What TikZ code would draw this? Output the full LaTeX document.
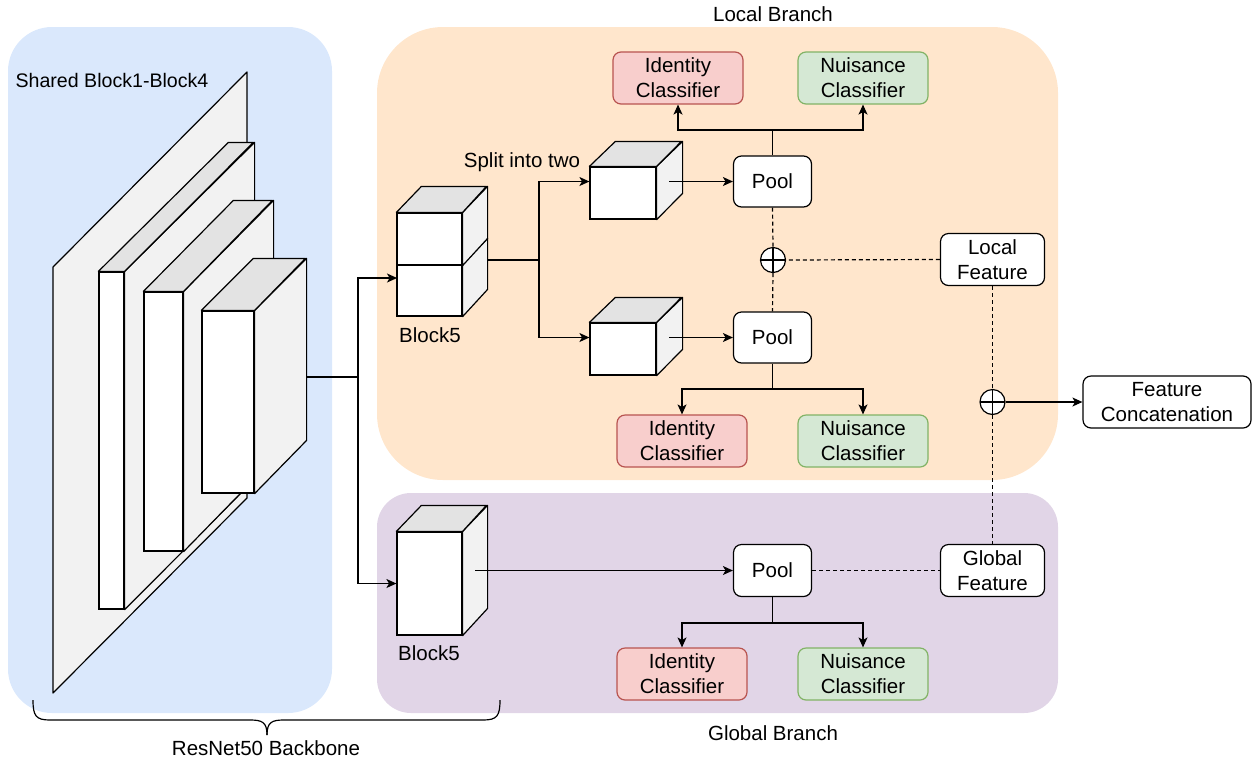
\documentclass[tikz,border=0pt]{standalone}
\usepackage{fontspec}
\setmainfont{Liberation Sans}
\usetikzlibrary{arrows.meta,calc}
\definecolor{cblue}{HTML}{DAE8FC}
\definecolor{corange}{HTML}{FFE6CC}
\definecolor{cpurple}{HTML}{E1D5E7}
\definecolor{redfill}{HTML}{F8CECC}
\definecolor{redline}{HTML}{B85450}
\definecolor{greenfill}{HTML}{D5E8D4}
\definecolor{greenline}{HTML}{82B366}
\definecolor{sidegray}{HTML}{F2F2F2}
\definecolor{topgray}{HTML}{E3E3E3}
\begin{document}
\begin{tikzpicture}[x=0.5pt,y=-0.5pt, line width=0.6pt,
 font=\fontsize{10.25pt}{12.5pt}\selectfont,
 front/.style={draw, fill=white, inner sep=0pt},
 sideface/.style={draw, fill=sidegray, line join=round},
 topface/.style={draw, fill=topgray, line join=round},
 box/.style={draw, fill=white, rounded corners=4pt, align=center, inner sep=0pt, minimum width=39pt, minimum height=25.5pt},
 idbox/.style={box, fill=redfill, draw=redline, minimum width=65pt, minimum height=26pt},
 nubox/.style={box, fill=greenfill, draw=greenline, minimum width=65pt, minimum height=26pt},
 featbox/.style={box, minimum width=52pt, minimum height=26pt},
 oplus/.style={circle, draw, fill=white, minimum size=12.5pt, inner sep=0pt,
   path picture={\draw (path picture bounding box.north) -- (path picture bounding box.south)
                       (path picture bounding box.west) -- (path picture bounding box.east);}},
 arr/.style={-{Stealth[length=5pt,width=4.5pt,inset=1.3pt]}},
 dsh/.style={dash pattern=on 2pt off 1.5pt},
 lbl/.style={inner sep=0pt},
]
\useasboundingbox (0,0) rectangle (1252,761);

% panels
\fill[cblue, rounded corners=22pt] (8,27) rectangle (332,713);
\fill[corange, rounded corners=33pt] (377,27) rectangle (1058,480);
\fill[cpurple, rounded corners=17pt] (377,493) rectangle (1058,713);

% labels
\node[lbl, anchor=west, font=\fontsize{9.8pt}{12pt}\selectfont] (shared) at (15,80) {Shared Block1-Block4};
\node[lbl] (lbranch) at (773,14) {Local Branch};
\node[lbl] (gbranch) at (773,733) {Global Branch};
\node[lbl] (resnet) at (266,748) {ResNet50 Backbone};

% Block1 slab
\draw[sideface] (53,267) -- (247,72) -- (247,498) -- (53,693) -- cycle;
% Block2
\node[front, minimum width=12.5pt, minimum height=168.5pt] (b2) at (111.5,440.5) {};
\draw[sideface] (b2.north east) -- ++(130,-129) -- ++(0,337) -- (b2.south east) -- cycle;
\draw[topface] (b2.north west) -- ++(130,-129) -- ++(25,0) -- (b2.north east) -- cycle;
% Block3
\node[front, minimum width=19.5pt, minimum height=129.5pt] (b3) at (163.5,421.5) {};
\draw[sideface] (b3.north east) -- ++(90,-91) -- ++(0,259) -- (b3.south east) -- cycle;
\draw[topface] (b3.north west) -- ++(90,-91) -- ++(39,0) -- (b3.north east) -- cycle;
% Block4
\node[front, minimum width=26pt, minimum height=91pt] (b4) at (228,402) {};
\draw[sideface] (b4.north east) -- ++(52,-52) -- ++(0,182) -- (b4.south east) -- cycle;
\draw[topface] (b4.north west) -- ++(52,-52) -- ++(52,0) -- (b4.north east) -- cycle;

% Local Block5 (two stacked cubes)
\node[front, minimum width=32.5pt, minimum height=25.5pt] (b5b) at (429.5,290.5) {};
\draw[sideface] (b5b.north east) -- ++(25,-26) -- ++(0,51) -- (b5b.south east) -- cycle;
\node[front, minimum width=32.5pt, minimum height=26pt] (b5a) at (429.5,239) {};
\draw[sideface] (b5a.north east) -- ++(25,-26) -- ++(0,52) -- (b5a.south east) -- cycle;
\draw[topface] (b5a.north west) -- ++(25,-26) -- ++(65,0) -- (b5a.north east) -- cycle;
\node[lbl] (b5lab) at (430,335) {Block5};
\node[lbl] (split) at (522,162) {Split into two};

% split cubes
\node[front, minimum width=33pt, minimum height=26pt] (cA) at (623,193) {};
\draw[sideface] (cA.north east) -- ++(26,-25) -- ++(0,52) -- (cA.south east) -- cycle;
\draw[topface] (cA.north west) -- ++(26,-25) -- ++(66,0) -- (cA.north east) -- cycle;
\node[front, minimum width=33pt, minimum height=26pt] (cB) at (623,349) {};
\draw[sideface] (cB.north east) -- ++(26,-25) -- ++(0,52) -- (cB.south east) -- cycle;
\draw[topface] (cB.north west) -- ++(26,-25) -- ++(66,0) -- (cB.north east) -- cycle;

% Global Block5
\node[front, minimum width=32.5pt, minimum height=51.5pt] (b5g) at (429.5,583.5) {};
\draw[sideface] (b5g.north east) -- ++(25,-26) -- ++(0,103) -- (b5g.south east) -- cycle;
\draw[topface] (b5g.north west) -- ++(25,-26) -- ++(65,0) -- (b5g.north east) -- cycle;
\node[lbl] (b5glab) at (429,653) {Block5};

% pools, classifiers, features
\node[box] (pool1) at (772.5,181.5) {Pool};
\node[box] (pool2) at (772.5,337.5) {Pool};
\node[box, minimum height=26pt] (pool3) at (772.5,570.5) {Pool};
\node[idbox] (id1) at (678,78) {Identity\\Classifier};
\node[nubox] (nu1) at (863,78) {Nuisance\\Classifier};
\node[idbox] (id2) at (682,441) {Identity\\Classifier};
\node[nubox] (nu2) at (863,441) {Nuisance\\Classifier};
\node[idbox] (id3) at (682,674) {Identity\\Classifier};
\node[nubox] (nu3) at (863,674) {Nuisance\\Classifier};
\node[featbox] (lf) at (992.5,259.5) {Local\\Feature};
\node[featbox] (gf) at (992.5,570.5) {Global\\Feature};
\node[box, minimum width=84pt, minimum height=26pt] (fc) at (1167,402) {Feature\\Concatenation};
\node[oplus] (c1) at (773,260) {};
\node[oplus] (c2) at (992.5,402) {};

% connectors
\coordinate (b4out) at (306,377);
\coordinate (fork) at (358,377);
\coordinate (in5) at (397,278);
\draw[arr] (b4out) -- (fork) |- (in5);
\draw[arr] (fork) |- (b5g.west);

\coordinate (b5out) at (487,260);
\coordinate (sp) at (539,260);
\draw (b5out) -- (sp);
\draw[arr] (sp) |- (cA.west |- pool1);
\draw[arr] (sp) |- (cB.west |- pool2);

\coordinate (oA) at (669,181.5);
\coordinate (oB) at (669,337.5);
\coordinate (oG) at (475,570.5);
\draw[arr] (oA) -- (pool1.west);
\draw[arr] (oB) -- (pool2.west);
\draw[arr] (oG) -- (pool3.west);

\coordinate (j1) at (772.5,130);
\draw (pool1.north) -- (j1);
\draw[arr] (j1) -| (id1.south);
\draw[arr] (j1) -| (nu1.south);
\coordinate (j2) at (772.5,389);
\draw (pool2.south) -- (j2);
\draw[arr] (j2) -| (id2.north);
\draw[arr] (j2) -| (nu2.north);
\coordinate (j3) at (772.5,623);
\draw (pool3.south) -- (j3);
\draw[arr] (j3) -| (id3.north);
\draw[arr] (j3) -| (nu3.north);

\draw[dsh] (pool1.south) -- (c1.north);
\draw[dsh] (c1.south) -- (pool2.north);
\draw[dsh] (lf.west) -- (c1.east);
\draw[dsh] (lf.south) -- (c2.north);
\draw[dsh] (c2.south) -- (gf.north);
\draw[dsh] (pool3.east) -- (gf.west);
\draw[arr] (c2.east) -- (fc.west);

% brace
\draw (33,700) .. controls (33,716) and (36,720) .. (50,720) -- (250,720)
      .. controls (262,720) and (267,722) .. (267,735);
\draw (267,735) .. controls (267,722) and (272,720) .. (284,720) -- (483,720)
      .. controls (497,720) and (500,716) .. (500,700);
\end{tikzpicture}
\end{document}
